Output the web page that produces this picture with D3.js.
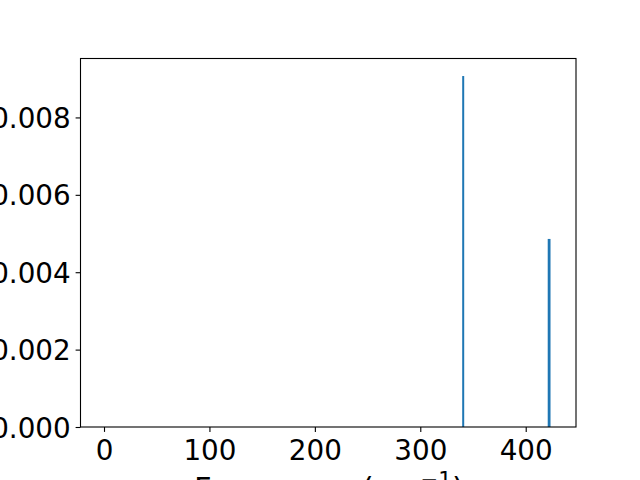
<!DOCTYPE html>
<html><head><meta charset="utf-8">
<script src="https://cdn.jsdelivr.net/npm/d3@7"></script>
<style>body{margin:0;background:#fff}svg{display:block}text{font-family:"DejaVu Sans";}</style>
</head><body>
<script>
const frequencies = [340.7, 422.2];
const intensities = [0.00907, 0.00486];
const xTicks = [0, 100, 200, 300, 400];
const yTicks = [0.000, 0.002, 0.004, 0.006, 0.008];
const xLimits = [-22.3, 447.7];
const yLimits = [0, 0.009523];

const W = 640, H = 480, FS = 27.8, LFS = 30.6;
const m = {left: 80.5, right: 576, top: 58.5, bottom: 427};
const svg = d3.select("body").append("svg").attr("width", W).attr("height", H);
const x = d3.scaleLinear().domain(xLimits).range([m.left, m.right]);
const y = d3.scaleLinear().domain(yLimits).range([m.bottom, m.top]);

// bars
svg.selectAll("rect.bar").data(frequencies).join("rect")
  .attr("class","bar")
  .attr("x", (d,i) => x(d) - (i===0?1:1.4))
  .attr("width", (d,i) => i===0?2:2.8)
  .attr("y", (d,i) => y(intensities[i]))
  .attr("height", (d,i) => y(0) - y(intensities[i]))
  .attr("fill", "#1f77b4");

// axes
const xAxis = d3.axisBottom(x).tickValues(xTicks).tickSize(4.9).tickPadding(4.9).tickFormat(d3.format("d"));
const yAxis = d3.axisLeft(y).tickValues(yTicks).tickSize(4.9).tickPadding(4.9).tickFormat(d3.format(".3f"));
const gx = svg.append("g").attr("transform", `translate(0,${m.bottom})`).call(xAxis);
const gy = svg.append("g").attr("transform", `translate(${m.left},0)`).call(yAxis);
[gx, gy].forEach(g => {
  g.attr("font-size", null).attr("font-family", null);
  g.select(".domain").remove();
  g.selectAll(".tick line").attr("stroke", "#000").attr("stroke-width", 1.1);
  g.selectAll(".tick text").attr("fill", "#000").style("font-size", FS + "px").style("font-family", "DejaVu Sans");
});
gx.selectAll(".tick text").attr("y", 33.2).attr("dy", null);
gy.selectAll(".tick text").attr("dy", "0.36em");

// frame
svg.append("rect").attr("x", m.left).attr("y", m.top)
  .attr("width", m.right - m.left).attr("height", m.bottom - m.top)
  .attr("fill", "none").attr("stroke", "#000").attr("stroke-width", 1.1);

// x label
const xl = svg.append("text").attr("x", 329).attr("y", 499)
  .attr("text-anchor", "middle").style("font-size", LFS + "px").attr("fill", "#000");
xl.append("tspan").text("Frequency (cm");
xl.append("tspan").style("font-size", "21.4px").attr("dy", -12).text("−1");
xl.append("tspan").attr("dy", 12).text(")");

// y label (mostly off-canvas)
svg.append("text").attr("transform", "translate(-14,242) rotate(-90)")
  .attr("text-anchor", "middle").style("font-size", LFS + "px").attr("fill", "#000").text("Intensity");
</script>
</body></html>
